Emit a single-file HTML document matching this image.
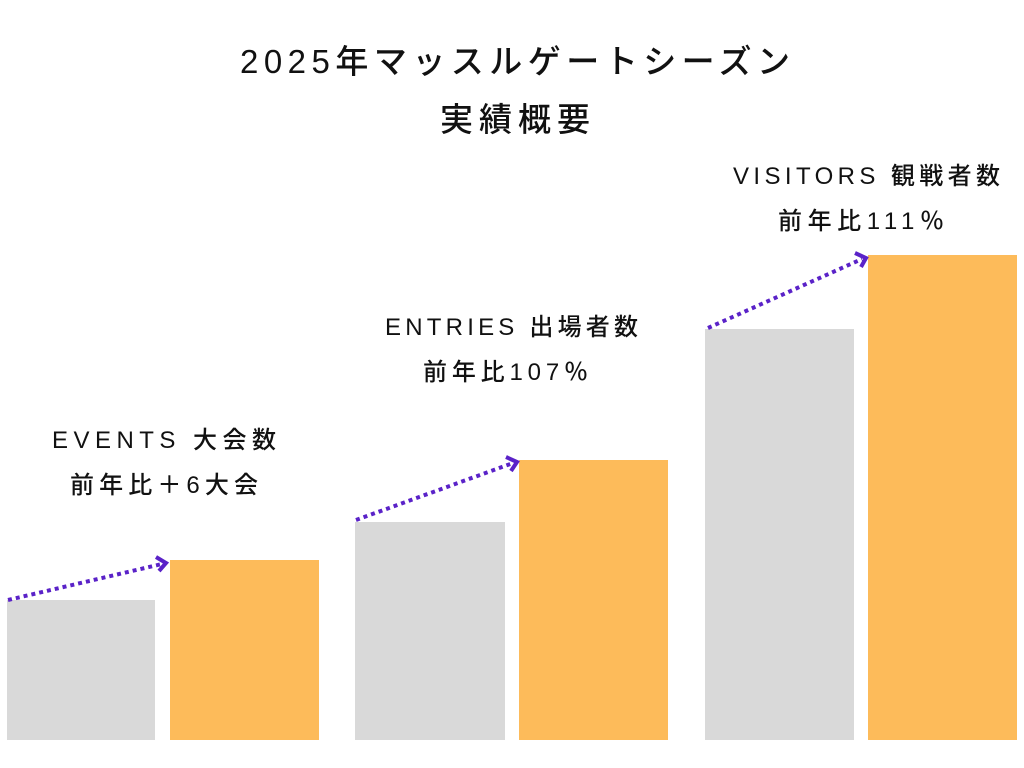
<!DOCTYPE html>
<html><head><meta charset="utf-8"><style>
html,body{margin:0;padding:0;background:#fff;}
svg{display:block;}
text{font-family:"Liberation Sans","Noto Sans CJK JP",sans-serif;fill:#111;}
</style></head><body>
<svg width="1024" height="768" viewBox="0 0 1024 768" xmlns="http://www.w3.org/2000/svg">
<rect width="1024" height="768" fill="#fff"/>
<text x="240" y="73" font-size="33" font-weight="500" textLength="550" lengthAdjust="spacing">2025年マッスルゲートシーズン</text>
<text x="440" y="131" font-size="33" font-weight="500" textLength="150" lengthAdjust="spacing">実績概要</text>

<rect x="7" y="600" width="148" height="140" fill="#d9d9d9"/>
<rect x="170" y="560" width="149" height="180" fill="#fdbb5a"/>
<rect x="355" y="522" width="150" height="218" fill="#d9d9d9"/>
<rect x="519" y="460" width="149" height="280" fill="#fdbb5a"/>
<rect x="705" y="329" width="149" height="411" fill="#d9d9d9"/>
<rect x="868" y="255" width="149" height="485" fill="#fdbb5a"/>

<g stroke="#5a22c8" stroke-width="4" fill="none">
<line x1="8" y1="600" x2="162" y2="564" stroke-dasharray="4 4"/>
<polyline points="156,557 166,563 159,571"/>
<line x1="356" y1="520" x2="513" y2="463" stroke-dasharray="4 4"/>
<polyline points="506,457 517,462 511,471"/>
<line x1="708" y1="328" x2="862" y2="259" stroke-dasharray="4 4"/>
<polyline points="855,253 866,258 861,267"/>
</g>

<g font-size="24" font-weight="500">
<text x="52" y="448" textLength="224" lengthAdjust="spacing">EVENTS  大会数</text>
<text x="70" y="493" textLength="188" lengthAdjust="spacing">前年比＋6大会</text>
<text x="385" y="335" textLength="253" lengthAdjust="spacing">ENTRIES 出場者数</text>
<text x="423" y="380" textLength="165" lengthAdjust="spacing">前年比107％</text>
<text x="733" y="184" textLength="267" lengthAdjust="spacing">VISITORS 観戦者数</text>
<text x="778" y="229" textLength="166" lengthAdjust="spacing">前年比111％</text>
</g>
</svg>
</body></html>
